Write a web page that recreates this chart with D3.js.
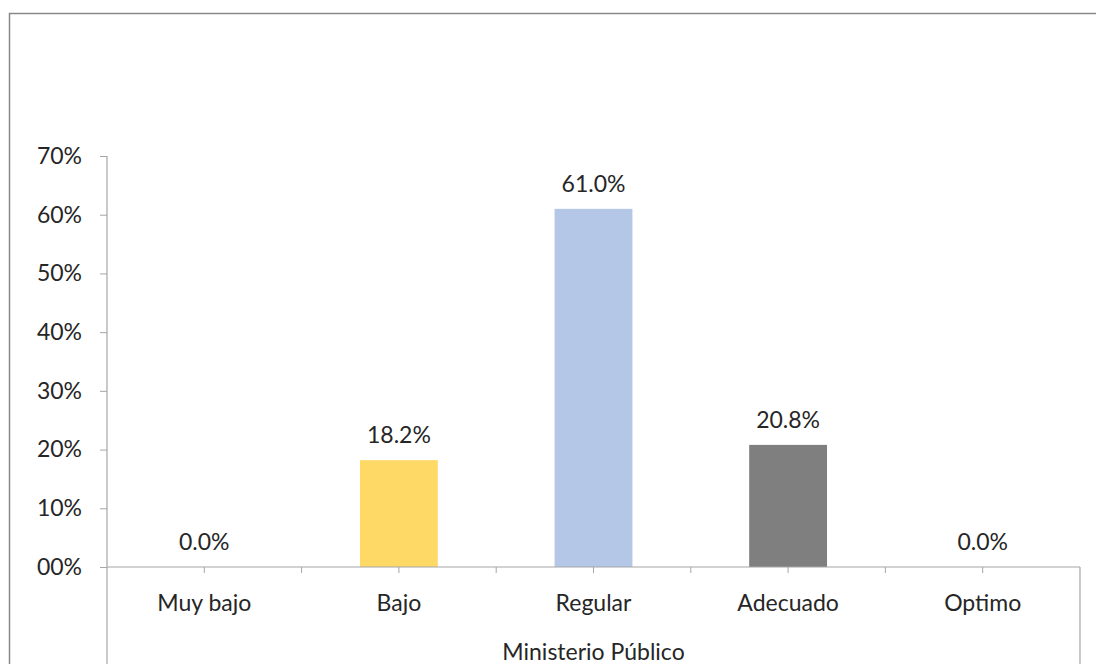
<!DOCTYPE html>
<html><head><meta charset="utf-8">
<script src="https://cdn.jsdelivr.net/npm/d3@7"></script>
<style>body{margin:0;background:#fff}svg{display:block}</style>
</head><body>
<svg id="c" width="1096" height="664"></svg>
<script>
const categories = ["Muy bajo", "Bajo", "Regular", "Adecuado", "Optimo"];
const values = [0.0, 0.182, 0.610, 0.208, 0.0];
const colors = ["#FFD966", "#FFD966", "#B4C7E7", "#7F7F7F", "#7F7F7F"];
const yTicks = [0, 0.1, 0.2, 0.3, 0.4, 0.5, 0.6, 0.7];
const yTickLabels = ["00%", "10%", "20%", "30%", "40%", "50%", "60%", "70%"];
const groupLabel = "Ministerio Público";

const svg = d3.select("#c");
const font = "Lato, 'Open Sans', sans-serif";
const fs = 23;
const txt = "#262626";
const axisCol = "#A6A6A6";

// outer frame
svg.append("path").attr("d", "M9.5,664 V13.5 H1096").attr("fill", "none").attr("stroke", "#888").attr("stroke-width", 1.5);

const x0 = 107, x1 = 1080, yTop = 156, yBot = 567;
const x = d3.scaleBand().domain(categories).range([x0, x1]).paddingInner(0.6).paddingOuter(0.3);
const xb = d3.scaleBand().domain(categories).range([x0, x1]);
const y = d3.scaleLinear().domain([0, 0.7]).range([yBot, yTop]);

// bars
svg.selectAll("rect.bar").data(values).enter().append("rect")
  .attr("x", (d, i) => x(categories[i]))
  .attr("width", x.bandwidth())
  .attr("y", d => y(d))
  .attr("height", d => y(0) - y(d))
  .attr("fill", (d, i) => colors[i]);

// y axis
const yAxis = d3.axisLeft(y).tickValues(yTicks).tickFormat((d, i) => yTickLabels[i]).tickSize(7).tickPadding(18);
const gy = svg.append("g").attr("transform", `translate(${x0},0)`).call(yAxis);
gy.select(".domain").remove();
gy.selectAll("line").attr("stroke", axisCol);
gy.selectAll("text").attr("font-family", font).attr("font-size", fs).attr("fill", txt);
svg.append("line").attr("x1", x0).attr("x2", x0).attr("y1", yTop).attr("y2", 664).attr("stroke", axisCol).attr("stroke-width", 1.2);

// x axis line
svg.append("line").attr("x1", x0).attr("x2", x1).attr("y1", yBot).attr("y2", yBot).attr("stroke", axisCol).attr("stroke-width", 1.2);
svg.append("line").attr("x1", x1).attr("x2", x1).attr("y1", yBot).attr("y2", 664).attr("stroke", axisCol).attr("stroke-width", 1.2);

// x ticks: at centers and boundaries
const tickPos = [];
categories.forEach((c, i) => {
  tickPos.push(xb(c) + xb.bandwidth() / 2);
  if (i > 0) tickPos.push(xb(c));
});
svg.selectAll("line.xt").data(tickPos).enter().append("line")
  .attr("x1", d => d).attr("x2", d => d).attr("y1", yBot).attr("y2", yBot + 6)
  .attr("stroke", axisCol);

// category labels
svg.selectAll("text.cat").data(categories).enter().append("text")
  .attr("x", d => xb(d) + xb.bandwidth() / 2).attr("y", 611)
  .attr("text-anchor", "middle").attr("font-family", font).attr("font-size", fs).attr("fill", txt)
  .text(d => d);

// group label
svg.append("text").attr("x", (x0 + x1) / 2).attr("y", 660)
  .attr("text-anchor", "middle").attr("font-family", font).attr("font-size", fs).attr("fill", txt)
  .text(groupLabel);

// value labels
svg.selectAll("text.val").data(values).enter().append("text")
  .attr("x", (d, i) => xb(categories[i]) + xb.bandwidth() / 2)
  .attr("y", d => y(d) - 17)
  .attr("text-anchor", "middle").attr("font-family", font).attr("font-size", fs).attr("fill", txt)
  .text(d => (d * 100).toFixed(1) + "%");
</script>
</body></html>
